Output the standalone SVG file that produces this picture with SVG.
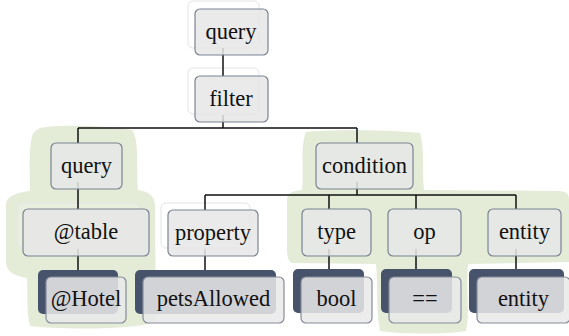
<svg xmlns="http://www.w3.org/2000/svg" width="569" height="336" viewBox="0 0 569 336">
<style>
.bg{fill:#ffffff}
.blob{fill:#e4ecd8}
.ghost{fill:#ffffff;fill-opacity:0.6;stroke:#e4e4e4;stroke-width:1}
.box{fill:#e6e6e6;fill-opacity:0.86;stroke:#7b8292;stroke-width:1.2}
.dark{fill:#46536a}
.leaf{fill:#e9e9e9;fill-opacity:0.86;stroke:#858b9a;stroke-width:1.2}
.lbl{font-family:"Liberation Serif","Times New Roman",serif;font-size:22.5px;fill:#111111;text-anchor:middle}
.edge{fill:none;stroke:#111111;stroke-width:1.5}
</style>
<rect class="bg" x="0" y="0" width="569" height="336"/>
<g id="highlights">
<path class="blob" d="M 40,128 C 60,124 110,126 132,130 C 140,140 136,175 138,190 C 150,192 156,196 155,210 L 156,320 C 150,330 60,330 30,326 C 26,310 28,290 27,278 C 15,276 6,272 6,262 L 6,205 C 6,195 20,192 30,191 C 30,175 28,140 34,132 Z"/>
<path class="blob" d="M 306,132 C 330,129 400,130 420,133 C 425,150 422,175 424,190 L 560,191 C 568,192 569,195 569,200 L 569,262 L 468,264 C 466,290 470,315 466,331 C 440,335 400,334 380,331 C 376,310 378,285 376,264 L 292,263 C 286,260 287,250 287,240 L 287,200 C 287,193 292,191 302,190 C 304,172 300,145 306,132 Z"/>
</g>
<g id="ghosts">
<rect class="ghost" x="188" y="1" width="71" height="47" rx="5"/>
<rect class="ghost" x="188" y="68" width="71" height="46" rx="5"/>
<rect class="ghost" x="161" y="203" width="89" height="45" rx="5"/>
<rect class="ghost" x="17" y="203" width="123" height="45" rx="5" style="fill-opacity:0.2"/>
</g>
<g id="connectors">
<path class="edge" d="M223,48 V76"/>
<path class="edge" d="M223,115 V128 M78,128 H357 M78,128 V143 M357,128 V143"/>
<path class="edge" d="M78,182 V209"/>
<path class="edge" d="M78,249 V270"/>
<path class="edge" d="M357,182 V195 M205,195 H516 M205,195 V210 M329,195 V209 M416,195 V209 M516,195 V209"/>
<path class="edge" d="M205,249 V270"/>
<path class="edge" d="M329,249 V269"/>
<path class="edge" d="M416,249 V269"/>
<path class="edge" d="M516,249 V269"/>
</g>
<g id="node-query-root">
<rect class="box" x="195" y="9" width="73" height="46" rx="5"/>
<text class="lbl" x="231" y="38.5">query</text>
</g>
<g id="node-filter">
<rect class="box" x="195" y="76" width="73" height="46" rx="5"/>
<text class="lbl" x="231" y="105.5">filter</text>
</g>
<g id="node-query">
<rect class="box" x="51" y="143" width="71" height="46" rx="5"/>
<text class="lbl" x="86.5" y="172.5">query</text>
</g>
<g id="node-table">
<rect class="box" x="23" y="209" width="126" height="47" rx="5"/>
<text class="lbl" x="86" y="239">@table</text>
</g>
<g id="node-hotel">
<rect class="dark" x="38" y="270" width="80" height="44" rx="5"/>
<rect class="leaf" x="46" y="277" width="80" height="46" rx="5"/>
<text class="lbl" x="86" y="306">@Hotel</text>
</g>
<g id="node-condition">
<rect class="box" x="316" y="143" width="97" height="46" rx="5"/>
<text class="lbl" x="364.5" y="172.5">condition</text>
</g>
<g id="node-property">
<rect class="box" x="168" y="210" width="90" height="46" rx="5"/>
<text class="lbl" x="213" y="239.5">property</text>
</g>
<g id="node-petsAllowed">
<rect class="dark" x="135" y="270" width="141" height="44" rx="5"/>
<rect class="leaf" x="143" y="277" width="141" height="46" rx="5"/>
<text class="lbl" x="213.5" y="306">petsAllowed</text>
</g>
<g id="node-type">
<rect class="box" x="302" y="209" width="69" height="47" rx="5"/>
<text class="lbl" x="336.5" y="239">type</text>
</g>
<g id="node-bool">
<rect class="dark" x="293" y="269" width="71" height="44" rx="5"/>
<rect class="leaf" x="301" y="277" width="71" height="46" rx="5"/>
<text class="lbl" x="336.5" y="306">bool</text>
</g>
<g id="node-op">
<rect class="box" x="388" y="209" width="73" height="47" rx="5"/>
<text class="lbl" x="424.5" y="239">op</text>
</g>
<g id="node-eq">
<rect class="dark" x="381" y="269" width="71" height="44" rx="5"/>
<rect class="leaf" x="389" y="277" width="72" height="46" rx="5"/>
<text class="lbl" x="425" y="306">==</text>
</g>
<g id="node-entity">
<rect class="box" x="488" y="209" width="73" height="47" rx="5"/>
<text class="lbl" x="524.5" y="239">entity</text>
</g>
<g id="node-entity-leaf">
<rect class="dark" x="469" y="269" width="95" height="44" rx="5"/>
<rect class="leaf" x="477" y="277" width="93" height="46" rx="5"/>
<text class="lbl" x="523.5" y="306">entity</text>
</g>
</svg>
